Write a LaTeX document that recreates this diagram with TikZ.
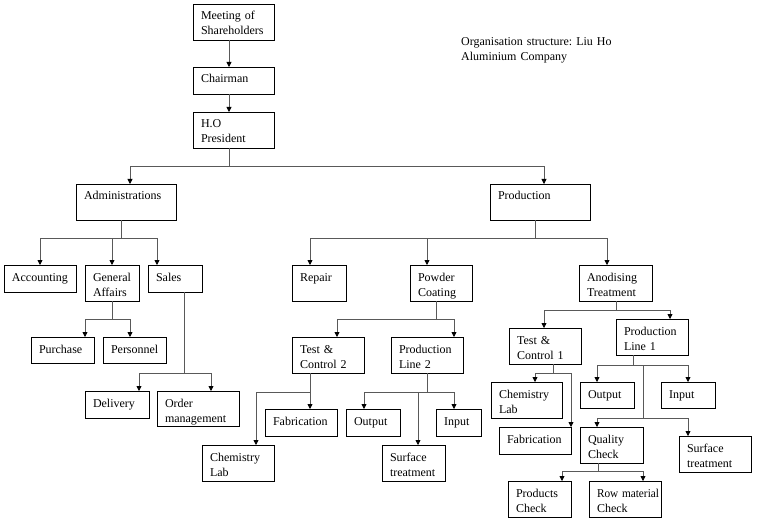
\documentclass[tikz,border=0pt]{standalone}
\usepackage{fontspec}
\setmainfont{Liberation Serif}
\usetikzlibrary{arrows.meta}
\frenchspacing
\hyphenpenalty=10000
\tikzset{
  bx/.style={draw=black, line width=0.8pt, anchor=north west, inner xsep=8pt, inner ysep=0pt,
    outer sep=0pt, text height=16pt, align=left, font=\fontsize{12}{15}\selectfont},
  cn/.style={draw=black!65, line width=0.8pt, -{Triangle[length=5pt,width=5pt,color=black]}},
  ttl/.style={anchor=base west, inner sep=0pt, text width=190pt, align=left, font=\fontsize{12}{15}\selectfont}
}
\newcommand\obox[6]{%
  \pgfmathsetmacro\bw{#4-#2-16}\pgfmathsetmacro\bd{#5-#3-16}%
  \node[bx, text width=\bw pt, text depth=\bd pt] (#1) at (#2,#3) {#6};}
\begin{document}
\begin{tikzpicture}[x=1pt,y=-1pt]
\fill[white] (0,0) rectangle (758,524);
\useasboundingbox (0,0) rectangle (758,524);

\node[ttl] (title) at (461,46) {Organisation structure: Liu Ho\\Aluminium Company};

\obox{ms}{193}{4}{274}{40}{Meeting of\\Shareholders}
\obox{ch}{193}{67}{274}{94}{Chairman}
\obox{pres}{193}{112}{274}{148}{H.O\\President}
\obox{adm}{76}{184}{176}{220}{Administrations}
\obox{prod}{490}{184}{590}{220}{Production}
\obox{acc}{4}{265}{76}{292}{Accounting}
\obox{ga}{85}{265}{139}{301}{General\\Affairs}
\obox{sal}{148}{265}{202}{292}{Sales}
\obox{pur}{31}{337}{94}{363}{Purchase}
\obox{per}{103}{337}{166}{363}{Personnel}
\obox{del}{85}{391}{149}{418}{Delivery}
\obox{ord}{157}{391}{239}{426}{Order\\management}
\obox{rep}{292}{265}{346}{301}{Repair}
\obox{pc}{410}{265}{472}{301}{Powder\\Coating}
\obox{tc2}{292}{337}{364}{373}{Test \&\\Control 2}
\obox{pl2}{391}{337}{463}{373}{Production\\Line 2}
\obox{fab2}{265}{409}{337}{436}{Fabrication}
\obox{chem2}{202}{445}{274}{481}{Chemistry\\Lab}
\obox{out2}{346}{409}{400}{436}{Output}
\obox{in2}{436}{409}{481}{436}{Input}
\obox{surf2}{382}{445}{445}{481}{Surface\\treatment}
\obox{at}{579}{265}{652}{301}{Anodising\\Treatment}
\obox{tc1}{509}{328}{581}{364}{Test \&\\Control 1}
\obox{pl1}{616}{319}{688}{355}{Production\\Line 1}
\obox{chem1}{491}{382}{562}{418}{Chemistry\\Lab}
\obox{fab1}{499}{427}{571}{454}{Fabrication}
\obox{out1}{580}{382}{634}{408}{Output}
\obox{in1}{661}{382}{715}{408}{Input}
\obox{qc}{580}{427}{643}{463}{Quality\\Check}
\obox{surf1}{679}{436}{751}{472}{Surface\\treatment}
\obox{pck}{508}{481}{571}{517}{Products\\Check}
\obox{rm}{589}{481}{661}{517}{\scalebox{0.94}[1]{Row material}\\Check}

% top chain
\draw[cn] ([xshift=36pt]ms.south west) -- ([xshift=36pt]ch.north west);
\draw[cn] ([xshift=36pt]ch.south west) -- ([xshift=36pt]pres.north west);
\draw[cn] ([xshift=36pt]pres.south west) -- ++(0,18) -| ([xshift=54pt]adm.north west);
\draw[cn] ([xshift=36pt]pres.south west) -- ++(0,18) -| ([xshift=54pt]prod.north west);
% administrations
\draw[cn] ([xshift=45pt]adm.south west) -- ++(0,18) -| ([xshift=36pt]acc.north west);
\draw[cn] ([xshift=45pt]adm.south west) -- ++(0,18) -| ([xshift=27pt]ga.north west);
\draw[cn] ([xshift=45pt]adm.south west) -- ++(0,18) -| ([xshift=9pt]sal.north west);
\draw[cn] ([xshift=27pt]ga.south west) -- ++(0,18) -| ([xshift=54pt]pur.north west);
\draw[cn] ([xshift=27pt]ga.south west) -- ++(0,18) -| ([xshift=27pt]per.north west);
\draw[cn] ([xshift=36pt]sal.south west) -- ++(0,81) -| ([xshift=54pt]del.north west);
\draw[cn] ([xshift=36pt]sal.south west) -- ++(0,81) -| ([xshift=54pt]ord.north west);
% production
\draw[cn] ([xshift=45pt]prod.south west) -- ++(0,18) -| ([xshift=18pt]rep.north west);
\draw[cn] ([xshift=45pt]prod.south west) -- ++(0,18) -| ([xshift=17pt]pc.north west);
\draw[cn] ([xshift=45pt]prod.south west) -- ++(0,18) -| ([xshift=28pt]at.north west);
% powder coating
\draw[cn] ([xshift=26pt]pc.south west) -- ++(0,18) -| ([xshift=45pt]tc2.north west);
\draw[cn] ([xshift=26pt]pc.south west) -- ++(0,18) -| ([xshift=63pt]pl2.north west);
\draw[cn] ([xshift=18pt]tc2.south west) -- ++(0,19) -| ([xshift=54pt]chem2.north west);
\draw[cn] ([xshift=18pt]tc2.south west) -- ([xshift=45pt]fab2.north west);
\draw[cn] ([xshift=36pt]pl2.south west) -- ++(0,19) -| ([xshift=18pt]out2.north west);
\draw[cn] ([xshift=36pt]pl2.south west) -- ++(0,19) -| ([xshift=18pt]in2.north west);
\draw[cn] ([xshift=36pt]pl2.south west) -- ++(0,19) -| ([xshift=36pt]surf2.north west);
% anodising
\draw[cn] ([xshift=37pt]at.south west) -- ++(0,9) -| ([xshift=35pt]tc1.north west);
\draw[cn] ([xshift=37pt]at.south west) -- ++(0,9) -| ([xshift=54pt]pl1.north west);
\draw[cn] ([xshift=44pt]tc1.south west) -- ++(0,9) -| ([xshift=44pt]chem1.north west);
\draw[cn] ([xshift=44pt]tc1.south west) -- ++(0,9) -| ([xshift=72pt]fab1.north west);
\draw[cn] ([xshift=17pt]pl1.south west) -- ++(0,10) -| ([xshift=17pt]out1.north west);
\draw[cn] ([xshift=17pt]pl1.south west) -- ++(0,10) -| ([xshift=27pt]in1.north west);
\coordinate (j1) at ([xshift=27pt,yshift=-10pt]pl1.south west);
\draw[cn] (j1) -- ++(0,53) -| ([xshift=17pt]qc.north west);
\draw[cn] (j1) -- ++(0,53) -| ([xshift=9pt]surf1.north west);
\draw[cn] ([xshift=18pt]qc.south west) -- ++(0,8) -| ([xshift=54pt]pck.north west);
\draw[cn] ([xshift=18pt]qc.south west) -- ++(0,8) -| ([xshift=54pt]rm.north west);
\end{tikzpicture}
\end{document}
